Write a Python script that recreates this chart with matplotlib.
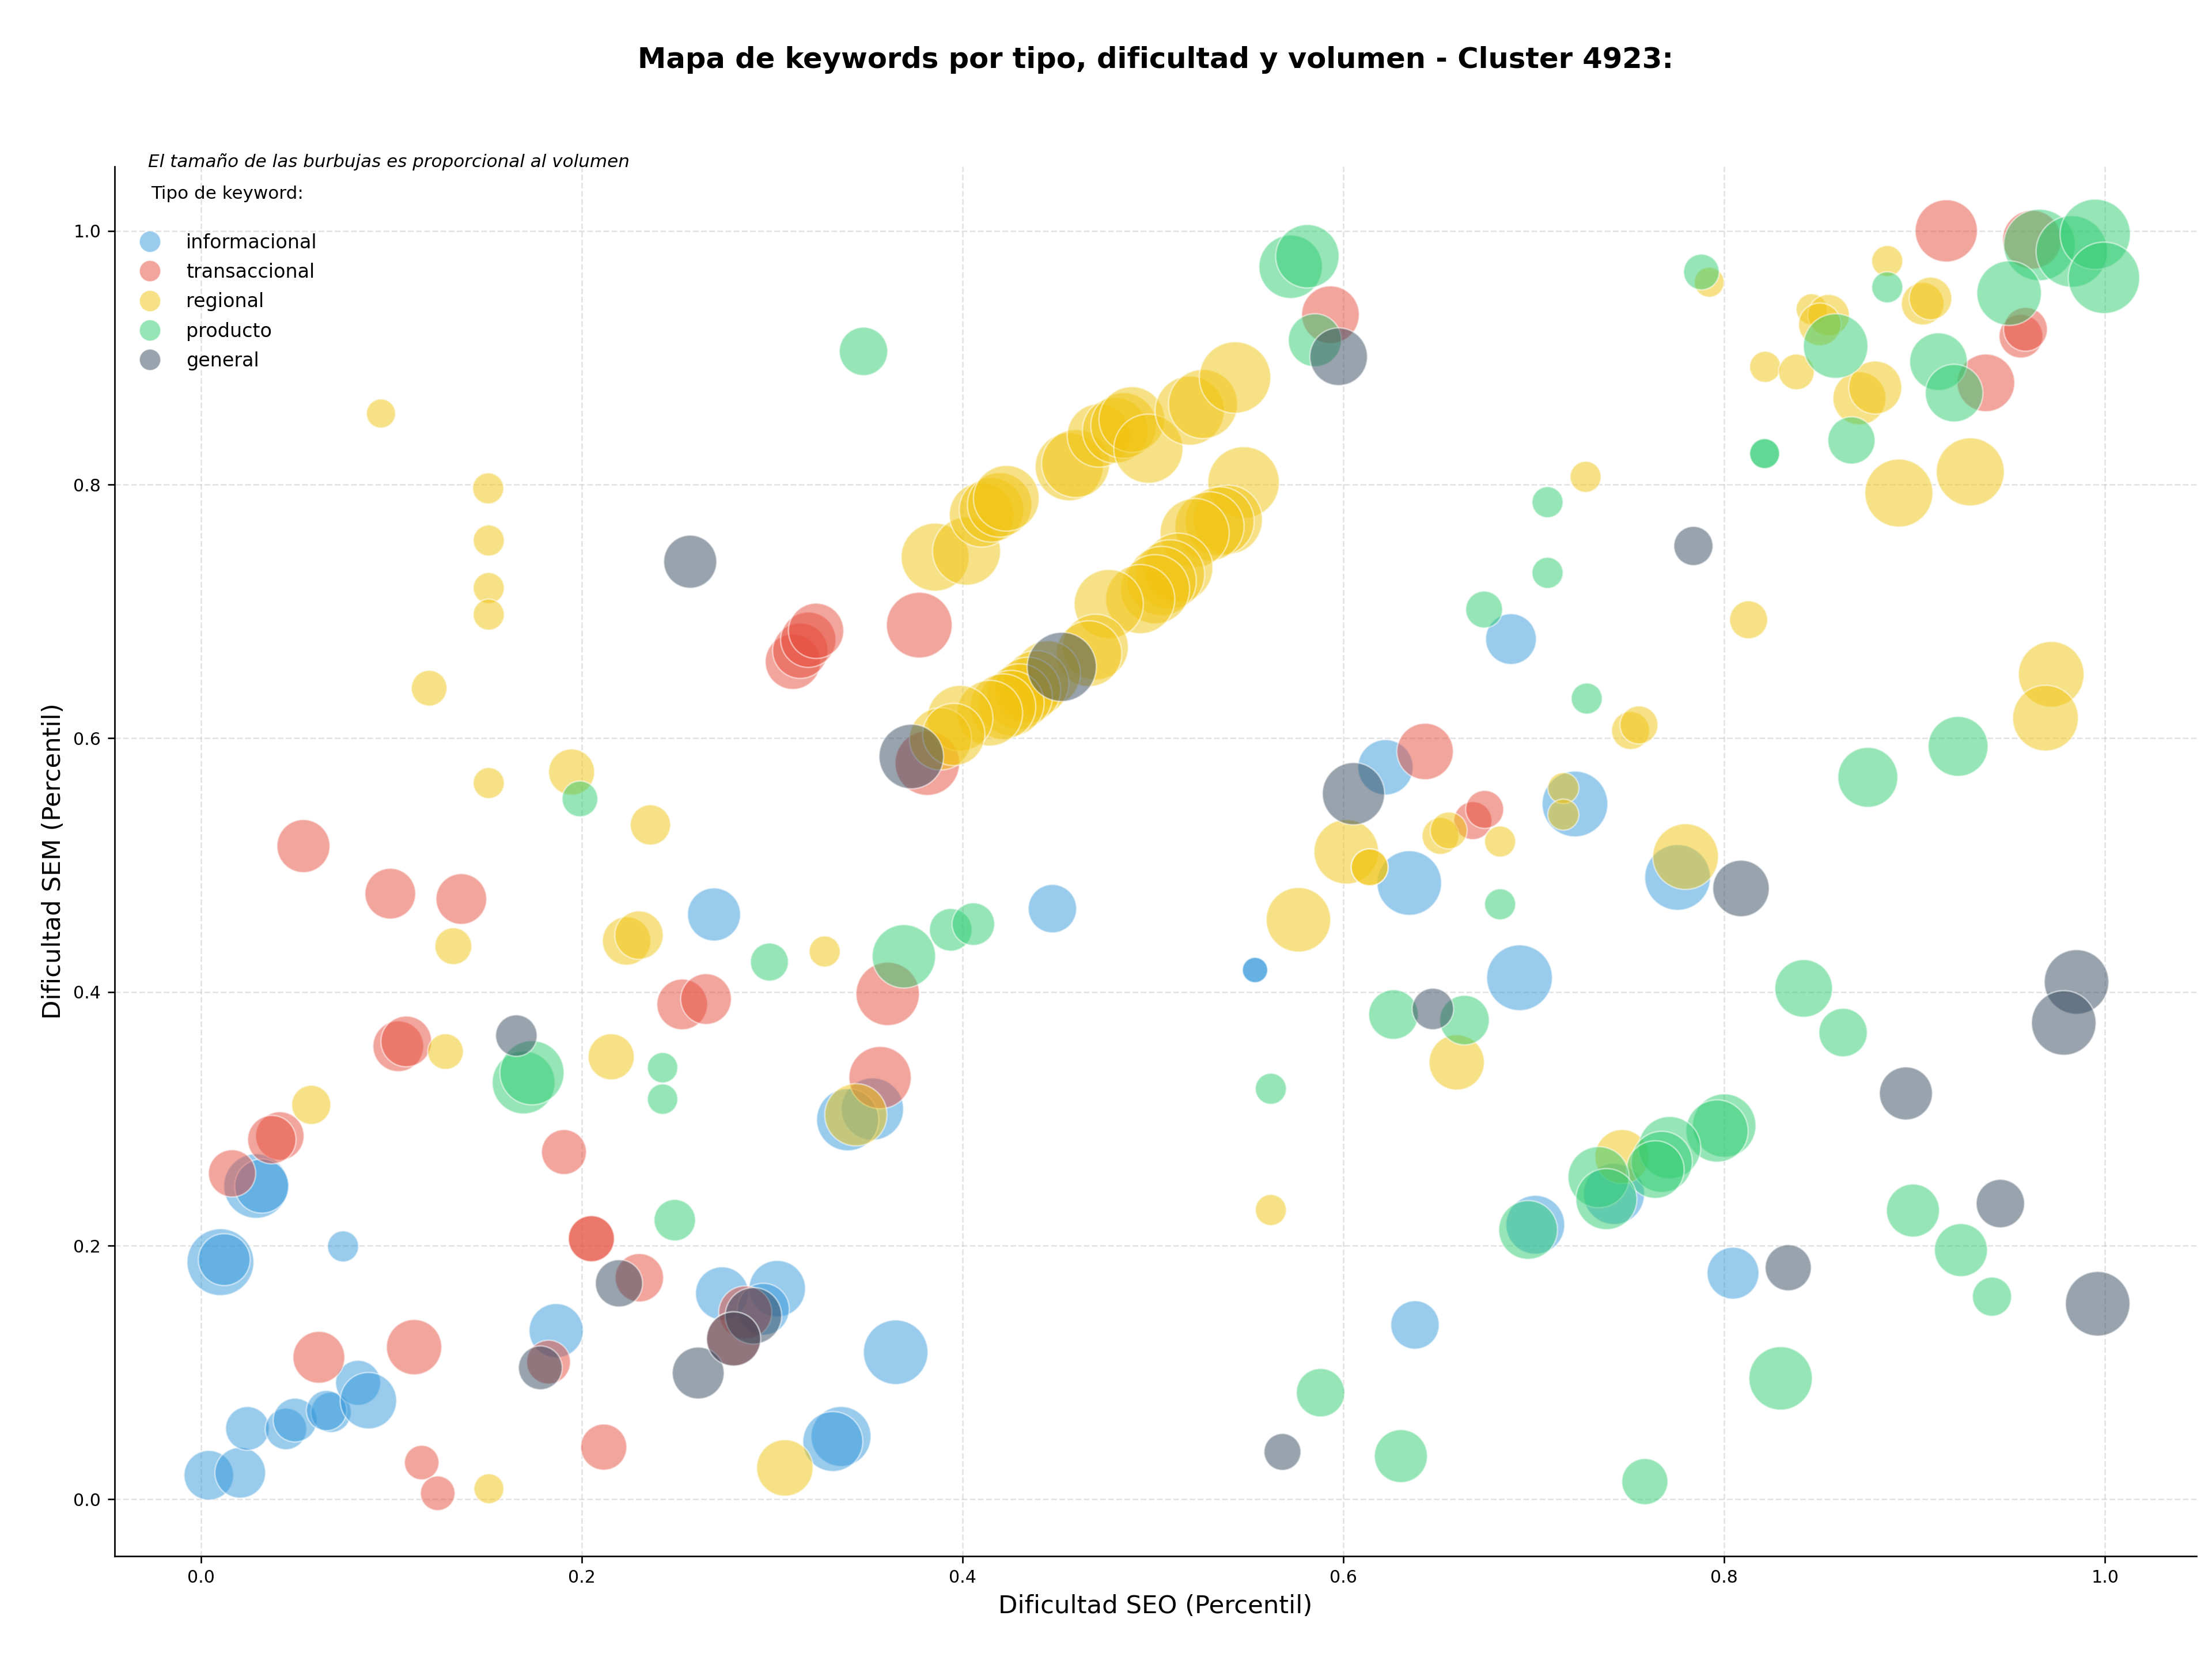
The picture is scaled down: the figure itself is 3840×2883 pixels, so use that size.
import matplotlib
matplotlib.use("Agg")
import matplotlib.pyplot as plt
from matplotlib.lines import Line2D

# ---------------- data ----------------
categorias = ["informacional", "transaccional", "regional", "producto", "general"]
colores = ["#3498db", "#e74c3c", "#f1c40f", "#2ecc71", "#34495e"]

info_x = [0.0042, 0.0207, 0.0245, 0.0447, 0.0495, 0.0684, 0.0660, 0.0826, 0.0880, 0.0747,
          0.0103, 0.0123, 0.0290, 0.0320, 0.1866, 0.2737, 0.3027, 0.2954, 0.3649, 0.3362,
          0.3319, 0.3527, 0.3397, 0.2695, 0.4472, 0.5536, 0.5536, 0.6221, 0.6346, 0.6880,
          0.6925, 0.7216, 0.7755, 0.7008, 0.7421, 0.8046, 0.6376]
info_y = [0.0190, 0.0210, 0.0559, 0.0555, 0.0625, 0.0686, 0.0700, 0.0919, 0.0778, 0.1994,
          0.1870, 0.1890, 0.2470, 0.2470, 0.1330, 0.1624, 0.1661, 0.1499, 0.1160, 0.0496,
          0.0456, 0.3077, 0.2993, 0.4611, 0.4657, 0.4173, 0.4173, 0.5771, 0.4859, 0.6782,
          0.4112, 0.5482, 0.4903, 0.2165, 0.2408, 0.1783, 0.1375]
info_vol = [666, 697, 520, 467, 520, 441, 441, 548, 864, 262,
            1211, 729, 1129, 795, 795, 762, 864, 729, 1129, 973,
            973, 1050, 1050, 762, 635, 174, 174, 829, 1129, 697,
            1170, 1170, 1170, 936, 1011, 729, 635]

trans_x = [0.0164, 0.0415, 0.0373, 0.0539, 0.0620, 0.0995, 0.1037, 0.1079, 0.1120, 0.1160,
           0.1244, 0.1368, 0.1907, 0.1826, 0.2051, 0.2051, 0.2116, 0.2303, 0.2528, 0.2653,
           0.2859, 0.2798, 0.3109, 0.3148, 0.3190, 0.3231, 0.3773, 0.3607, 0.3567, 0.3815,
           0.5932, 0.6429, 0.6680, 0.6742, 0.9166, 0.9374, 0.9558, 0.9582, 0.9616]
trans_y = [0.2570, 0.2865, 0.2836, 0.5150, 0.1120, 0.4775, 0.3572, 0.3610, 0.1200, 0.0290,
           0.0048, 0.4733, 0.2738, 0.1082, 0.2055, 0.2055, 0.0412, 0.1747, 0.3902, 0.3944,
           0.1473, 0.1265, 0.6603, 0.6690, 0.6777, 0.6847, 0.6892, 0.3985, 0.3325, 0.5804,
           0.9339, 0.5896, 0.5351, 0.5439, 1.0000, 0.8802, 0.9170, 0.9224, 0.9931]
trans_vol = [605, 635, 635, 762, 729, 697, 697, 697, 829, 324,
             324, 697, 548, 520, 576, 576, 576, 635, 697, 697,
             762, 795, 829, 829, 829, 829, 1170, 1089, 1050, 1129,
             900, 864, 392, 392, 1050, 900, 520, 520, 936]

reg_x = [0.0946, 0.1509, 0.1512, 0.1512, 0.1512, 0.1199, 0.1512, 0.1947, 0.2361, 0.1326,
         0.2236, 0.2301, 0.1285, 0.2155, 0.0580, 0.1513, 0.3067, 0.3276, 0.3440, 0.5619,
         0.3856, 0.4021, 0.4100, 0.4152, 0.4195, 0.4230, 0.4560, 0.4594, 0.4716, 0.4802,
         0.4846, 0.4889, 0.4976, 0.5193, 0.5263, 0.5431,
         0.5476, 0.5393, 0.5350, 0.5297, 0.5219, 0.5133, 0.5090, 0.5046, 0.5011, 0.4933,
         0.4768, 0.4698, 0.4664, 0.4447, 0.4386, 0.4343, 0.4299, 0.4256, 0.4212, 0.4143,
         0.3987, 0.3884, 0.3954,
         0.6015, 0.6138, 0.6138, 0.5764, 0.6595, 0.6510, 0.6553, 0.6823, 0.7155, 0.7155,
         0.7272, 0.7508, 0.7552, 0.7797, 0.7463, 0.7921, 0.8128, 0.8215, 0.8379, 0.8459,
         0.8548, 0.8502, 0.8856, 0.9042, 0.9083, 0.8710, 0.8793, 0.8917, 0.9292, 0.9717,
         0.9687]
reg_y = [0.8560, 0.7970, 0.7559, 0.7184, 0.6975, 0.6395, 0.5647, 0.5734, 0.5317, 0.4361,
         0.4402, 0.4448, 0.3530, 0.3489, 0.3110, 0.0084, 0.0248, 0.4319, 0.3032, 0.2281,
         0.7428, 0.7475, 0.7762, 0.7801, 0.7840, 0.7892, 0.8140, 0.8166, 0.8387, 0.8427,
         0.8466, 0.8513, 0.8283, 0.8583, 0.8635, 0.8844,
         0.8017, 0.7723, 0.7710, 0.7671, 0.7618, 0.7345, 0.7292, 0.7240, 0.7175, 0.7097,
         0.7058, 0.6719, 0.6667, 0.6510, 0.6432, 0.6380, 0.6328, 0.6276, 0.6249, 0.6198,
         0.6158, 0.5995, 0.6030,
         0.5105, 0.4983, 0.4983, 0.4569, 0.3445, 0.5230, 0.5273, 0.5186, 0.5607, 0.5398,
         0.8061, 0.6061, 0.6105, 0.5067, 0.2702, 0.9595, 0.6934, 0.8928, 0.8888, 0.9382,
         0.9335, 0.9263, 0.9762, 0.9426, 0.9467, 0.8680, 0.8765, 0.7933, 0.8100, 0.6504,
         0.6159]
reg_vol = [230, 262, 262, 262, 262, 346, 262, 576, 441, 369,
           635, 635, 346, 576, 416, 243, 864, 262, 1050, 262,
           1253, 1253, 1129, 1129, 1129, 1170, 1253, 1253, 1089, 1170,
           1170, 1170, 1296, 1296, 1296, 1384,
           1384, 1296, 1296, 1296, 1296, 1296, 1296, 1296, 1296, 1296,
           1296, 1170, 1170, 1170, 1170, 1170, 1170, 1170, 1170, 1170,
           1170, 1050, 1050,
           1129, 369, 369, 1129, 829, 369, 369, 262, 262, 262,
           262, 392, 392, 1170, 795, 243, 392, 262, 346, 262,
           467, 493, 262, 493, 493, 762, 762, 1253, 1253, 1170,
           1170]

prod_x = [0.1695, 0.1739, 0.2425, 0.2425, 0.2489, 0.1991, 0.2986, 0.3692, 0.3938, 0.4057,
          0.3480, 0.5723, 0.5811, 0.5850, 0.7880, 0.8856, 0.9655, 0.9825, 0.9948, 0.9994,
          0.9496, 0.8585, 0.9125, 0.9207, 0.8668, 0.8212, 0.8212, 0.7072, 0.7072, 0.6739,
          0.7278, 0.8754, 0.9228, 0.6823, 0.8417, 0.8624, 0.6263, 0.6636, 0.5619, 0.8000,
          0.7962, 0.7713, 0.7672, 0.7638, 0.7340, 0.7381, 0.6970, 0.8296, 0.8991, 0.9243,
          0.9406, 0.7583, 0.6302, 0.5880]
prod_y = [0.3286, 0.3363, 0.3403, 0.3155, 0.2201, 0.5522, 0.4236, 0.4281, 0.4490, 0.4535,
          0.9050, 0.9717, 0.9800, 0.9138, 0.9676, 0.9555, 0.9889, 0.9838, 0.9973, 0.9630,
          0.9509, 0.9092, 0.8969, 0.8721, 0.8348, 0.8244, 0.8244, 0.7861, 0.7304, 0.7015,
          0.6313, 0.5692, 0.5936, 0.4691, 0.4028, 0.3680, 0.3822, 0.3778, 0.3237, 0.2947,
          0.2904, 0.2773, 0.2661, 0.2600, 0.2540, 0.2367, 0.2124, 0.0954, 0.2277, 0.1965,
          0.1598, 0.0140, 0.0341, 0.0841]
prod_vol = [1069, 1117, 251, 251, 467, 346, 392, 1089, 493, 493,
            635, 1089, 1089, 762, 346, 262, 1384, 1384, 1340, 1384,
            1129, 1129, 900, 900, 605, 243, 243, 262, 262, 369,
            262, 973, 973, 262, 900, 635, 666, 666, 262, 1089,
            1050, 1050, 1011, 900, 1011, 1011, 936, 1089, 762, 762,
            416, 576, 762, 635]

gen_x = [0.1657, 0.2570, 0.2196, 0.1783, 0.2612, 0.2902, 0.2798, 0.3731, 0.4521, 0.5975,
         0.6053, 0.6470, 0.5680, 0.7838, 0.8088, 0.8954, 0.9450, 0.8336, 0.9850, 0.9783,
         0.9961]
gen_y = [0.3656, 0.7392, 0.1703, 0.1037, 0.0996, 0.1447, 0.1265, 0.5856, 0.6563, 0.9008,
         0.5563, 0.3866, 0.0374, 0.7516, 0.4816, 0.3200, 0.2332, 0.1826, 0.4079, 0.3756,
         0.1542]
gen_vol = [467, 762, 605, 520, 729, 864, 795, 1129, 1296, 900,
           1050, 467, 369, 416, 864, 762, 635, 576, 1129, 1129,
           1129]

series = [
    (info_x, info_y, info_vol),
    (trans_x, trans_y, trans_vol),
    (reg_x, reg_y, reg_vol),
    (prod_x, prod_y, prod_vol),
    (gen_x, gen_y, gen_vol),
]

titulo = "Mapa de keywords por tipo, dificultad y volumen - Cluster 4923:"
subtitulo = "El tamaño de las burbujas es proporcional al volumen"
titulo_leyenda = "Tipo de keyword:"
xlabel = "Dificultad SEO (Percentil)"
ylabel = "Dificultad SEM (Percentil)"

# ---------------- figure ----------------
plt.rcParams["font.family"] = ["DejaVu Sans"]
fig = plt.figure(figsize=(16, 12.0125), dpi=240)
ax = fig.add_axes([0.0517, 0.0631, 0.9413, 0.8367])

for (xs, ys, vs), col in zip(series, colores):
    ax.scatter(xs, ys, s=vs, c=col, alpha=0.5, edgecolors="white", linewidths=0.8, zorder=3)

ax.set_xlim(-0.0454, 1.048)
ax.set_ylim(-0.0448, 1.0508)
ax.set_xticks([0.0, 0.2, 0.4, 0.6, 0.8, 1.0])
ax.set_yticks([0.0, 0.2, 0.4, 0.6, 0.8, 1.0])
ax.tick_params(labelsize=9)
ax.grid(True, linestyle="--", color="#bbbbbb", alpha=0.4, linewidth=0.8)
ax.set_axisbelow(True)
for sp in ["top", "right"]:
    ax.spines[sp].set_visible(False)

ax.set_xlabel(xlabel, fontsize=13)
ax.set_ylabel(ylabel, fontsize=13)

fig.text(0.5224, 0.964, titulo, ha="center", va="center", fontsize=14.9, fontweight="bold")

ax.text(0.0163, 0.9995, subtitulo, transform=ax.transAxes, fontsize=9.3, style="italic",
        ha="left", va="baseline")
ax.text(0.0176, 0.9767, titulo_leyenda, transform=ax.transAxes, fontsize=9.3,
        ha="left", va="baseline")

handles = [Line2D([0], [0], marker="o", linestyle="none", markersize=11,
                  markerfacecolor=c, markeredgecolor="white", markeredgewidth=0.5, alpha=0.5)
           for c in colores]
ax.legend(handles, categorias, loc="upper left", bbox_to_anchor=(0.004, 0.9575),
          frameon=False, fontsize=10, handletextpad=0.9, labelspacing=0.55,
          borderaxespad=0.0)

fig.savefig("out.png", dpi=240)
